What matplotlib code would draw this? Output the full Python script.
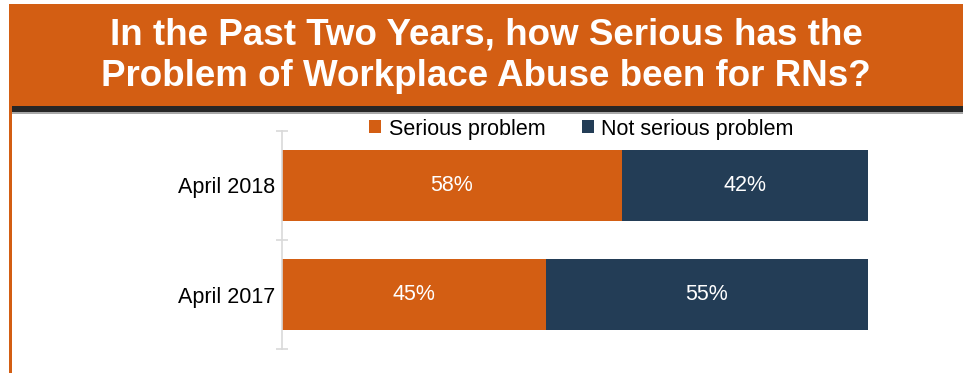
import matplotlib
matplotlib.use('Agg')
import matplotlib.pyplot as plt
from matplotlib.patches import Rectangle, Patch

# data
categories = ['April 2017', 'April 2018']
serious = [45, 58]
not_serious = [55, 42]
series_names = ['Serious problem', 'Not serious problem']

orange = '#D35E13'
navy = '#233D56'

plt.rcParams['font.family'] = ['Liberation Sans', 'DejaVu Sans']

W, H = 963, 373
fig = plt.figure(figsize=(W / 100, H / 100), dpi=100)

def px(x0, y0, w, h):
    # pixel box (top-left origin) -> figure fraction rectangle
    return (x0 / W, 1 - (y0 + h) / H, w / W, h / H)

# header band
for (x0, y0, w, h), c in [((9, 4, 954, 102), orange),
                          ((9, 106, 954, 6), '#262626'),
                          ((9, 112, 954, 1.5), '#A8A8A8'),
                          ((9, 106, 2.5, 267), orange)]:
    x, y, ww, hh = px(x0, y0, w, h)
    fig.patches.append(Rectangle((x, y), ww, hh, transform=fig.transFigure,
                                 facecolor=c, edgecolor='none', zorder=0))

fig.text(0.505, 1 - 35 / H, 'In the Past Two Years, how Serious has the',
         ha='center', va='center', color='white', fontsize=26.5, fontweight='bold')
fig.text(0.505, 1 - 76 / H, 'Problem of Workplace Abuse been for RNs?',
         ha='center', va='center', color='white', fontsize=26.5, fontweight='bold')

ax = fig.add_axes(px(282, 131, 586, 218))
ypos = [0.5, 1.5]
ax.barh(ypos, serious, height=0.66, color=orange, label=series_names[0])
ax.barh(ypos, not_serious, left=serious, height=0.66, color=navy, label=series_names[1])

for y, s, n in zip(ypos, serious, not_serious):
    ax.text(s / 2, y, f'{s}%', ha='center', va='center', color='white', fontsize=15.5)
    ax.text(s + n / 2, y, f'{n}%', ha='center', va='center', color='white', fontsize=15.5)

ax.set_xlim(0, 100)
ax.set_ylim(0, 2)
for sp in ['top', 'right', 'bottom']:
    ax.spines[sp].set_visible(False)
ax.spines['left'].set_color('#D9D9D9')
ax.spines['left'].set_linewidth(1.2)
ax.set_xticks([])
ax.set_yticks([0, 1, 2])
ax.set_yticklabels([])
ax.tick_params(axis='y', which='major', length=8, direction='inout', color='#D9D9D9', width=1.2)
ax.set_yticks(ypos, minor=True)
ax.set_yticklabels(categories, minor=True, fontsize=15.5)
ax.tick_params(axis='y', which='minor', length=0, pad=5)

handles = [Patch(facecolor=orange), Patch(facecolor=navy)]
fig.legend(handles, series_names, loc='center', bbox_to_anchor=(0.604, 1 - 129 / H),
           ncol=2, frameon=False, fontsize=15.5, handlelength=0.55, handleheight=0.55,
           handletextpad=0.35, columnspacing=1.7, borderpad=0)

fig.savefig('out.png', dpi=100)
